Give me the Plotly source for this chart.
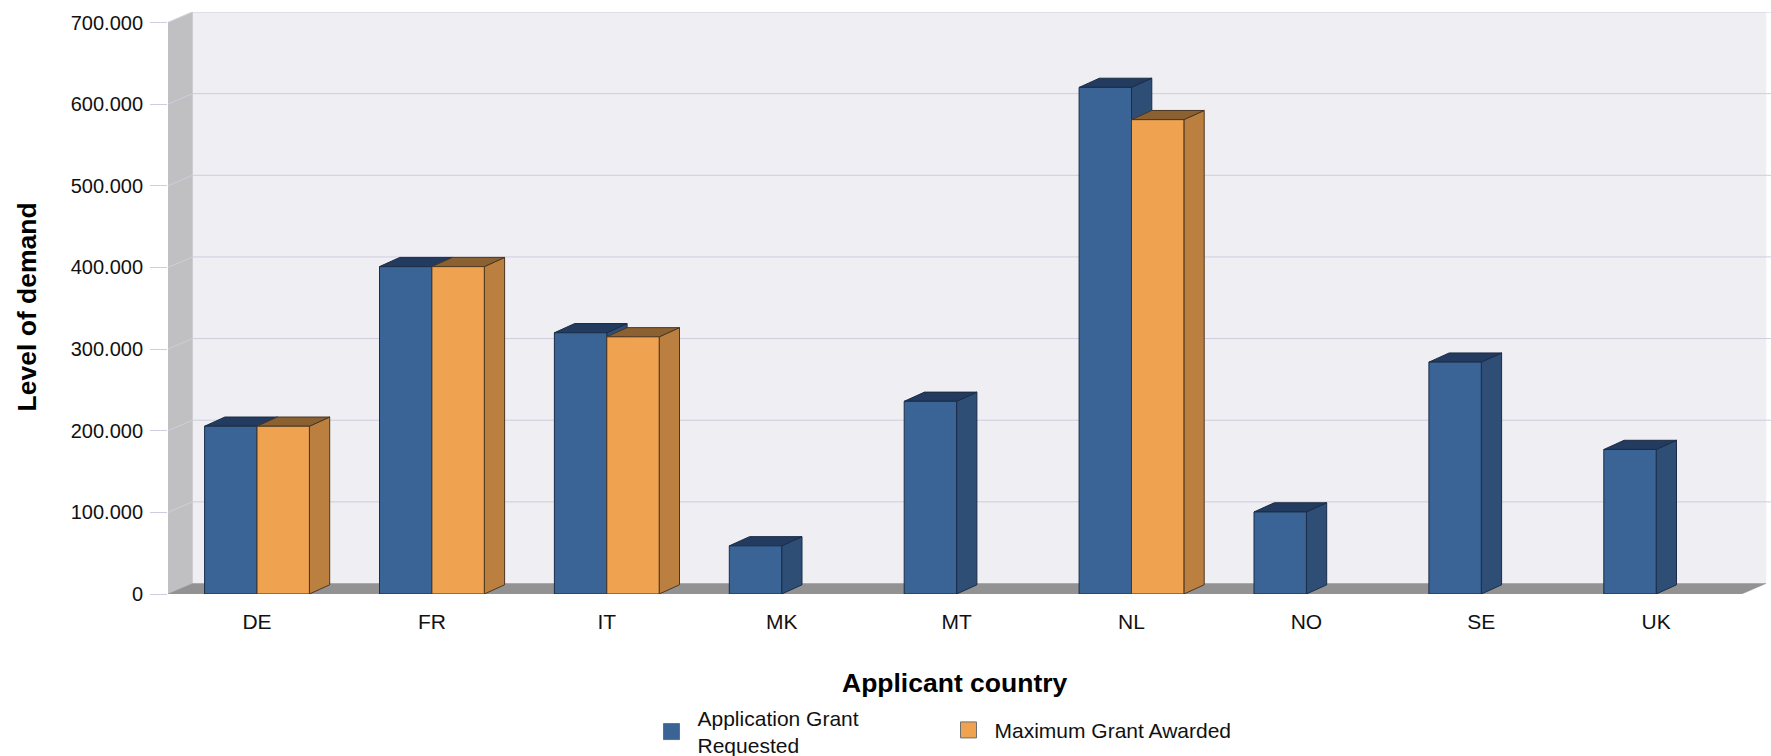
import plotly.graph_objects as go

# ---- data ----
categories = ["DE", "FR", "IT", "MK", "MT", "NL", "NO", "SE", "UK"]
requested = [205500, 401000, 320000, 59000, 236000, 620500, 100500, 284000, 177000]
awarded = [205500, 401000, 315000, None, None, 581000, None, None, None]
y_ticks = [0, 100000, 200000, 300000, 400000, 500000, 600000, 700000]
series_names = ["Application Grant<br>Requested", "Maximum Grant Awarded"]
x_title = "Applicant country"
y_title = "Level of demand"

# ---- geometry / style ----
W, H = 1771, 756
mL, mR, mT, mB = 168, 0, 11.5, 162.3
PX_PER_CAT = 174.9
PX_PER_UNIT = 81.67 / 100000
X0_PX = 257.0  # pixel position of the first category centre
x_of = lambda px: (px - X0_PX) / PX_PER_CAT
x_lo, x_front_hi, x_hi, x_back_hi = x_of(168), x_of(1741.7), x_of(1771), x_of(1766)
wall_dx, wall_dy = 24.5 / PX_PER_CAT, 10.5 / PX_PER_UNIT
bar_w = 52.4 / PX_PER_CAT
bar_dx, bar_dy = 20.3 / PX_PER_CAT, 9.2 / PX_PER_UNIT
y_hi = y_ticks[-1] + wall_dy

BLUE, BLUE_SIDE, BLUE_TOP, BLUE_EDGE = "#3A6496", "#2E4E76", "#223B5E", "#1B2C47"
ORANGE, ORANGE_SIDE, ORANGE_TOP, ORANGE_EDGE = "#EFA351", "#BB8040", "#8C6131", "#4A3622"
GRID = "#CECDDE"
FONT = "Liberation Sans"

fig = go.Figure()


def poly(xs, ys, fill, line, z, width=1):
    fig.add_trace(go.Scatter(x=xs, y=ys, mode="lines", fill="toself", fillcolor=fill,
                             line=dict(color=line, width=width), hoverinfo="skip",
                             showlegend=False, zorder=z))


# back wall, left wall and floor
poly([x_lo + wall_dx, x_back_hi, x_back_hi, x_lo + wall_dx, x_lo + wall_dx],
     [wall_dy, wall_dy, y_hi, y_hi, wall_dy], "#EFEEF3", "#EFEEF3", 0, 0.5)
poly([x_lo, x_lo + wall_dx, x_lo + wall_dx, x_lo, x_lo],
     [0, wall_dy, y_hi, y_ticks[-1], 0], "#C0C0C3", "#C0C0C3", 0, 0.5)
poly([x_lo, x_front_hi, x_back_hi, x_lo + wall_dx, x_lo],
     [0, 0, wall_dy, wall_dy, 0], "#929292", "#929292", 0, 0.5)

# grid lines on the back wall and diagonals on the left wall
gx, gy, dx_, dy_ = [], [], [], []
for t in y_ticks:
    if t > 0:
        gx += [x_lo + wall_dx, x_hi, None]
        gy += [t + wall_dy, t + wall_dy, None]
        dx_ += [x_lo, x_lo + wall_dx, None]
        dy_ += [t, t + wall_dy, None]
fig.add_trace(go.Scatter(x=gx, y=gy, mode="lines", line=dict(color=GRID, width=1),
                         hoverinfo="skip", showlegend=False, zorder=0))
fig.add_trace(go.Scatter(x=dx_, y=dy_, mode="lines", line=dict(color=GRID, width=1),
                         hoverinfo="skip", showlegend=False, zorder=0))


def extruded(values, offset, front, side, top, edge, name, z, legend):
    tx, ty, sx, sy = [], [], [], []
    for i, v in enumerate(values):
        if v is None:
            continue
        a, b = i + offset, i + offset + bar_w
        tx += [a, b, b + bar_dx, a + bar_dx, a, None]
        ty += [v, v, v + bar_dy, v + bar_dy, v, None]
        sx += [b, b + bar_dx, b + bar_dx, b, b, None]
        sy += [0, bar_dy, v + bar_dy, v, 0, None]
    poly(sx, sy, side, edge, z)
    poly(tx, ty, top, edge, z)
    fig.add_trace(go.Bar(x=list(range(len(values))), y=values, width=bar_w, offset=offset,
                         marker=dict(color=front, line=dict(color=edge, width=1)),
                         hoverinfo="skip", showlegend=False, zorder=z + 1))
    # legend entry with a large square swatch
    fig.add_trace(go.Scatter(x=[None], y=[None], mode="markers", name=name, legend=legend,
                             marker=dict(symbol="square", size=16, color=front,
                                         line=dict(color="#6E6E6E", width=1))))


extruded(requested, -bar_w, BLUE, BLUE_SIDE, BLUE_TOP, BLUE_EDGE, series_names[0], 1, "legend")
extruded(awarded, 0, ORANGE, ORANGE_SIDE, ORANGE_TOP, ORANGE_EDGE, series_names[1], 3, "legend2")

plot_w = W - mL - mR
plot_h = H - mT - mB


def legend_at(left_px, top_px):
    return dict(orientation="h", x=(left_px - mL) / plot_w, xanchor="left",
                y=-(top_px - (H - mB)) / plot_h, yanchor="top",
                itemwidth=42, itemsizing="trace",
                font=dict(size=21, family=FONT), bgcolor="rgba(0,0,0,0)")


fig.update_layout(
    width=W, height=H, autosize=False,
    margin=dict(l=mL, r=mR, t=mT, b=mB, pad=0, autoexpand=False),
    paper_bgcolor="white", plot_bgcolor="white",
    barmode="overlay", separators=",.",
    hovermode=False,
    font=dict(family=FONT, size=21, color="#111111"),
    xaxis=dict(range=[x_lo, x_hi], tickmode="array", tickvals=list(range(len(categories))),
               ticktext=categories, showgrid=False, zeroline=False, showline=False,
               ticks="outside", ticklen=9, tickcolor="rgba(0,0,0,0)", tickfont=dict(size=21)),
    yaxis=dict(range=[0, y_hi], tickmode="array", tickvals=y_ticks, tickformat=",d",
               showgrid=False, zeroline=False, showline=False, ticklabelstandoff=3,
               ticks="outside", ticklen=17, tickcolor=GRID, tickwidth=1, tickfont=dict(size=20)),
    legend=legend_at(645.5, 697.5),
    legend2=legend_at(942.5, 709.5),
    annotations=[
        dict(text="<b>%s</b>" % x_title, xref="paper", yref="paper",
             x=(955 - mL) / plot_w, y=-(683 - (H - mB)) / plot_h,
             xanchor="center", yanchor="middle", showarrow=False,
             font=dict(size=26.5, family=FONT, color="#000000")),
        dict(text="<b>%s</b>" % y_title, xref="paper", yref="paper", textangle=-90,
             x=(27 - mL) / plot_w, y=(H - mB - 307) / plot_h,
             xanchor="center", yanchor="middle", showarrow=False,
             font=dict(size=26.5, family=FONT, color="#000000")),
    ],
)

fig.write_html("out.html", config={"displayModeBar": False},
               post_script="document.body.style.margin='0';")
